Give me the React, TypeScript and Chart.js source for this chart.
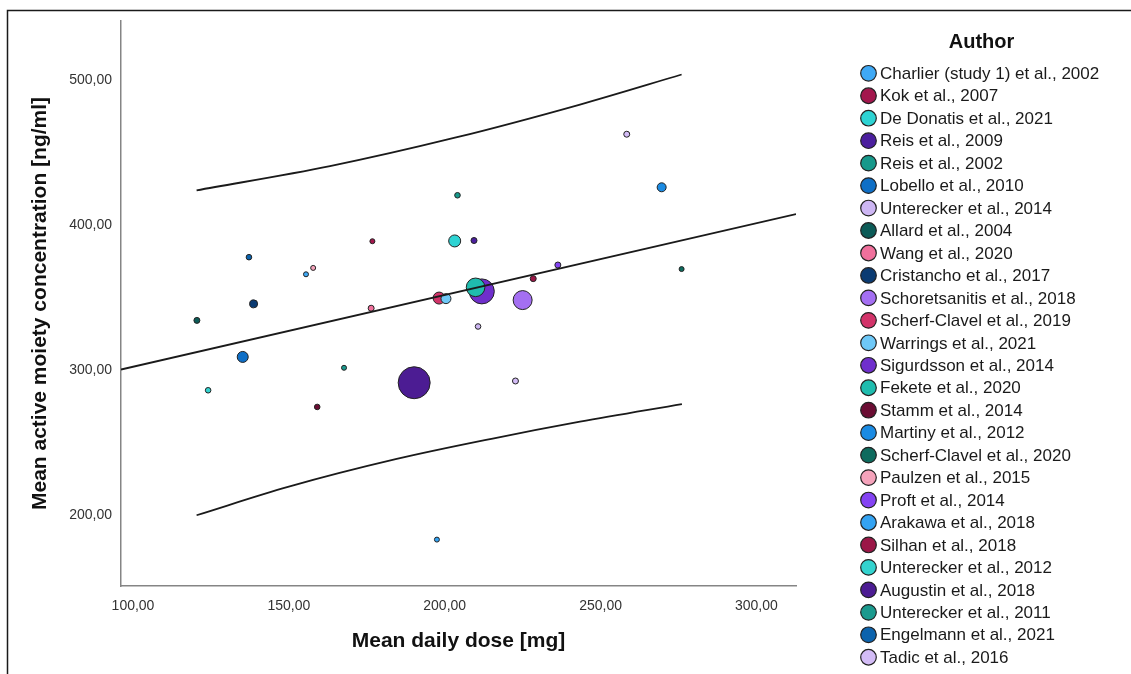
import React, { useEffect, useRef } from "react";
import { Chart, registerables } from "chart.js";

Chart.register(...registerables);

const FONT = "'Liberation Sans', Arial, Helvetica, sans-serif";

// Legend categories (authors) and their colours
const authors = [
  "Charlier (study 1) et al., 2002",
  "Kok et al., 2007",
  "De Donatis et al., 2021",
  "Reis et al., 2009",
  "Reis et al., 2002",
  "Lobello et al., 2010",
  "Unterecker et al., 2014",
  "Allard et al., 2004",
  "Wang et al., 2020",
  "Cristancho et al., 2017",
  "Schoretsanitis et al., 2018",
  "Scherf-Clavel et al., 2019",
  "Warrings et al., 2021",
  "Sigurdsson et al., 2014",
  "Fekete et al., 2020",
  "Stamm et al., 2014",
  "Martiny et al., 2012",
  "Scherf-Clavel et al., 2020",
  "Paulzen et al., 2015",
  "Proft et al., 2014",
  "Arakawa et al., 2018",
  "Silhan et al., 2018",
  "Unterecker et al., 2012",
  "Augustin et al., 2018",
  "Unterecker et al., 2011",
  "Engelmann et al., 2021",
  "Tadic et al., 2016",
];

const authorColors = [
  "#3fa9f5", "#a3174d", "#2dd3d3", "#4b1f9e", "#17998b", "#0f6fc6",
  "#cdb6f3", "#0c5b57", "#f0709c", "#0b3b72", "#a46ff2", "#d23369",
  "#6ec8f7", "#6f2fcc", "#1fbcae", "#6b0d33", "#1b8be3", "#0e6b5e",
  "#f5a3bb", "#8443f3", "#34a3f2", "#9b1747", "#33d3cf", "#4c1c93",
  "#1b9a8e", "#0c63ad", "#d3bcf6",
];

// Study points: author index, mean daily dose, mean concentration, weight (bubble radius)
const pointAuthor = [0, 1, 2, 3, 4, 5, 6, 7, 8, 9, 10, 11, 12, 13, 14, 15, 16, 17, 18, 19, 20, 21, 22, 23, 24, 25, 26, 26];
const doseMg = [155.5, 176.8, 203.2, 209.4, 204.1, 135.2, 210.7, 120.5, 176.4, 138.7, 225.0, 198.2, 200.4, 211.9, 209.9, 159.1, 269.6, 276.0, 157.8, 236.3, 197.5, 228.4, 124.1, 190.2, 167.7, 137.2, 258.4, 222.7];
const concentration = [366.0, 388.8, 389.0, 389.3, 420.5, 309.0, 330.0, 334.2, 342.6, 345.6, 348.2, 349.6, 349.2, 354.2, 357.0, 274.5, 426.0, 369.6, 370.4, 372.4, 183.0, 363.0, 286.0, 291.2, 301.5, 377.8, 462.6, 292.4];
const weight = [2.5, 2.5, 6, 3, 2.8, 5.5, 2.8, 3, 3, 4, 9.5, 6, 5, 12.5, 9.3, 2.8, 4.5, 2.5, 2.5, 3, 2.5, 3, 2.8, 16, 2.5, 2.8, 3, 3];

// Fit line and prediction band
const fitDose = [96.15, 312.7];
const fitConc = [300.3, 407.5];
const upperDose = [120.4, 163.2, 203.3, 243.4, 276.0];
const upperConc = [423.9, 440.6, 460.2, 483.1, 503.8];
const lowerDose = [120.4, 150.0, 184.6, 215.0, 243.4, 276.1];
const lowerConc = [199.8, 219.5, 238.6, 252.5, 264.3, 276.5];

// Axes
const xRange = [96.15, 312.7];
const yRange = [151.0, 540.7];
const xTicks = [100, 150, 200, 250, 300];
const yTicks = [200, 300, 400, 500];

const fmt = (v: number) => v.toFixed(2).replace(".", ",");

const decorPlugin = {
  id: "decor",
  beforeDraw(chart: any) {
    const ctx = chart.ctx;
    ctx.save();
    ctx.strokeStyle = "#1a1a1a";
    ctx.lineWidth = 1.5;
    ctx.beginPath();
    ctx.moveTo(7.5, 674);
    ctx.lineTo(7.5, 10.5);
    ctx.lineTo(1131, 10.5);
    ctx.stroke();
    ctx.restore();
  },
  afterDraw(chart: any) {
    const ctx = chart.ctx;
    ctx.save();
    ctx.fillStyle = "#111";
    ctx.font = `bold 20px ${FONT}`;
    ctx.textAlign = "center";
    ctx.textBaseline = "middle";
    ctx.fillText("Author", 981.5, 42);
    ctx.font = `17px ${FONT}`;
    ctx.textAlign = "left";
    const startY = 73.3;
    const step = 22.46;
    authors.forEach((name, i) => {
      const y = startY + i * step;
      ctx.beginPath();
      ctx.arc(868.5, y, 7.8, 0, Math.PI * 2);
      ctx.fillStyle = authorColors[i];
      ctx.fill();
      ctx.lineWidth = 1.2;
      ctx.strokeStyle = "#222";
      ctx.stroke();
      ctx.fillStyle = "#1a1a1a";
      ctx.fillText(name, 880, y + 1);
    });
    ctx.restore();
  },
};

export default function App() {
  const ref = useRef<HTMLCanvasElement | null>(null);

  useEffect(() => {
    if (!ref.current) return;
    Chart.defaults.font.family = FONT;

    const bubbleSets = authors.map((name, a) => {
      const data: any[] = [];
      pointAuthor.forEach((pa, i) => {
        if (pa === a) data.push({ x: doseMg[i], y: concentration[i], r: weight[i] });
      });
      return {
        type: "bubble" as const,
        label: name,
        data,
        backgroundColor: authorColors[a],
        borderColor: "#222",
        borderWidth: 1,
        order: -a,
      };
    });

    const lineSet = (label: string, xs: number[], ys: number[]) => ({
      type: "line" as const,
      label,
      data: xs.map((x, i) => ({ x, y: ys[i] })),
      borderColor: "#1a1a1a",
      borderWidth: 1.8,
      pointRadius: 0,
      fill: false,
      cubicInterpolationMode: "monotone" as const,
      order: -100,
    });

    const chart = new Chart(ref.current, {
      type: "bubble",
      data: {
        datasets: [
          ...bubbleSets,
          lineSet("Fit", fitDose, fitConc),
          lineSet("Upper", upperDose, upperConc),
          lineSet("Lower", lowerDose, lowerConc),
        ] as any,
      },
      options: {
        responsive: false,
        animation: false,
        layout: { padding: { left: 28, top: 21, right: 335, bottom: 0 } },
        plugins: {
          legend: { display: false },
          tooltip: { enabled: false },
          title: { display: false },
        },
        scales: {
          x: {
            type: "linear",
            min: xRange[0],
            max: xRange[1],
            afterBuildTicks: (s: any) => {
              s.ticks = xTicks.map((v) => ({ value: v }));
            },
            afterFit: (s: any) => {
              s.height = 88;
            },
            grid: { display: false, drawTicks: false },
            border: { display: true, color: "#858585", width: 1.5 },
            ticks: {
              callback: (v: any) => fmt(Number(v)),
              color: "#333",
              font: { size: 14, family: FONT },
              padding: 12,
              maxRotation: 0,
            },
            title: {
              display: true,
              text: "Mean daily dose [mg]",
              color: "#111",
              font: { size: 21, weight: "bold", family: FONT },
              padding: { top: 0, bottom: 20 },
            },
          },
          y: {
            type: "linear",
            min: yRange[0],
            max: yRange[1],
            afterBuildTicks: (s: any) => {
              s.ticks = yTicks.map((v) => ({ value: v }));
            },
            afterFit: (s: any) => {
              s.width = 93;
            },
            grid: { display: false, drawTicks: false },
            border: { display: true, color: "#858585", width: 1.5 },
            ticks: {
              callback: (v: any) => fmt(Number(v)),
              color: "#333",
              font: { size: 14, family: FONT },
              padding: 9,
            },
            title: {
              display: true,
              text: "Mean active moiety concentration [ng/ml]",
              color: "#111",
              font: { size: 21, weight: "bold", family: FONT },
              padding: { top: 0, bottom: 0 },
            },
          },
        },
      },
      plugins: [decorPlugin],
    });

    return () => chart.destroy();
  }, []);

  return (
    <div style={{ position: "absolute", left: 0, top: 0, width: 1131, height: 674, background: "#fff" }}>
      <canvas ref={ref} width={1131} height={674} style={{ display: "block" }} />
    </div>
  );
}
